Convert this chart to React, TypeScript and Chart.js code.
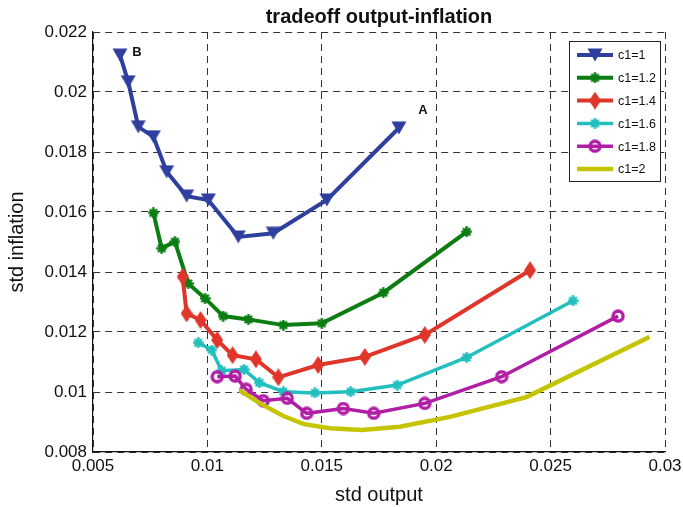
import React, { useEffect, useRef } from "react";
import { Chart, registerables } from "chart.js";

Chart.register(...registerables);

// Series: std output (x) vs std inflation (y) for each value of c1
const seriesLabels = ["c1=1", "c1=1.2", "c1=1.4", "c1=1.6", "c1=1.8", "c1=2"];

const c1_10_x = [0.00618, 0.00654, 0.00698, 0.00764, 0.00822, 0.00909, 0.01004, 0.01135, 0.01288, 0.01522, 0.01837];
const c1_10_y = [0.02123, 0.02034, 0.01884, 0.01851, 0.01734, 0.01653, 0.0164, 0.01517, 0.01529, 0.0164, 0.0188];

const c1_12_x = [0.00764, 0.008, 0.00858, 0.00916, 0.0099, 0.01069, 0.01179, 0.01332, 0.015, 0.01769, 0.02133];
const c1_12_y = [0.01597, 0.01479, 0.01501, 0.01362, 0.01312, 0.01253, 0.01242, 0.01223, 0.01229, 0.01331, 0.01534];

const c1_14_x = [0.00892, 0.00909, 0.0097, 0.01043, 0.0111, 0.01212, 0.0131, 0.01484, 0.01688, 0.0195, 0.0241];
const c1_14_y = [0.01384, 0.01262, 0.0124, 0.01173, 0.01123, 0.01109, 0.01049, 0.0109, 0.01117, 0.0119, 0.01406];

const c1_16_x = [0.0096, 0.01019, 0.01062, 0.0116, 0.01227, 0.01332, 0.0147, 0.01626, 0.0183, 0.02133, 0.02598];
const c1_16_y = [0.01164, 0.0114, 0.01071, 0.01075, 0.01031, 0.01001, 0.00997, 0.01001, 0.01023, 0.01115, 0.01304];

const c1_18_x = [0.01043, 0.01121, 0.01169, 0.01244, 0.01349, 0.01434, 0.01594, 0.01727, 0.0195, 0.02286, 0.02795];
const c1_18_y = [0.01051, 0.01053, 0.01009, 0.00971, 0.00979, 0.00929, 0.00945, 0.00929, 0.00962, 0.01051, 0.01253];

const c1_20_x = [0.0114, 0.0123, 0.01332, 0.01422, 0.01535, 0.01674, 0.01841, 0.0206, 0.02394, 0.02932];
const c1_20_y = [0.01006, 0.00962, 0.0092, 0.00893, 0.00879, 0.00873, 0.00884, 0.00917, 0.00983, 0.01183];

const xTicks = [0.005, 0.01, 0.015, 0.02, 0.025, 0.03];
const xTickLabels = ["0.005", "0.01", "0.015", "0.02", "0.025", "0.03"];
const yTicks = [0.008, 0.01, 0.012, 0.014, 0.016, 0.018, 0.02, 0.022];
const yTickLabels = ["0.008", "0.01", "0.012", "0.014", "0.016", "0.018", "0.02", "0.022"];

// Point labels written next to the c1=1 frontier
const noteText = ["A", "B"];
const noteX = [0.01942, 0.00692];
const noteY = [0.0194, 0.02133];

const titleText = "tradeoff output-inflation";
const xTitle = "std output";
const yTitle = "std inflation";

const colors = ["#2f3f9e", "#0b7d12", "#e0352a", "#23bfbf", "#b01ea6", "#c4c400"];
const lineWidths = [4, 4, 4, 3.5, 3.5, 4.5];
const FONT = "'Liberation Sans', Arial, Helvetica, sans-serif";

type Painter = (ctx: CanvasRenderingContext2D) => void;

function makeMarker(w: number, h: number, paint: Painter): HTMLCanvasElement {
  const c = document.createElement("canvas");
  c.width = w;
  c.height = h;
  const ctx = c.getContext("2d")!;
  paint(ctx);
  return c;
}

function buildMarkers(): (HTMLCanvasElement | null)[] {
  const triDown = makeMarker(16, 14, (ctx) => {
    ctx.fillStyle = colors[0];
    ctx.beginPath();
    ctx.moveTo(0.5, 0.5);
    ctx.lineTo(15.5, 0.5);
    ctx.lineTo(8, 13.5);
    ctx.closePath();
    ctx.fill();
  });
  const asterisk = (col: string) =>
    makeMarker(11, 11, (ctx) => {
      ctx.strokeStyle = col;
      ctx.lineWidth = 2.6;
      ctx.lineCap = "round";
      ctx.beginPath();
      ctx.moveTo(5.5, 1.2);
      ctx.lineTo(5.5, 9.8);
      ctx.moveTo(1.2, 5.5);
      ctx.lineTo(9.8, 5.5);
      ctx.moveTo(2.6, 2.6);
      ctx.lineTo(8.4, 8.4);
      ctx.moveTo(8.4, 2.6);
      ctx.lineTo(2.6, 8.4);
      ctx.stroke();
    });
  const diamond = makeMarker(12, 18, (ctx) => {
    ctx.fillStyle = colors[2];
    ctx.beginPath();
    ctx.moveTo(6, 0);
    ctx.lineTo(12, 9);
    ctx.lineTo(6, 18);
    ctx.lineTo(0, 9);
    ctx.closePath();
    ctx.fill();
  });
  const ring = makeMarker(14, 14, (ctx) => {
    ctx.strokeStyle = colors[4];
    ctx.lineWidth = 3.4;
    ctx.beginPath();
    ctx.arc(7, 7, 5, 0, Math.PI * 2);
    ctx.stroke();
  });
  return [triDown, asterisk(colors[1]), diamond, asterisk(colors[3]), ring, null];
}

export default function App() {
  const canvasRef = useRef<HTMLCanvasElement | null>(null);

  useEffect(() => {
    const canvas = canvasRef.current;
    if (!canvas) return;
    const markers = buildMarkers();
    const xs = [c1_10_x, c1_12_x, c1_14_x, c1_16_x, c1_18_x, c1_20_x];
    const ys = [c1_10_y, c1_12_y, c1_14_y, c1_16_y, c1_18_y, c1_20_y];

    const datasets = seriesLabels.map((label, i) => ({
      label,
      data: xs[i].map((x, j) => ({ x, y: ys[i][j] })),
      borderColor: colors[i],
      backgroundColor: colors[i],
      borderWidth: lineWidths[i],
      pointStyle: (markers[i] || "circle") as any,
      pointRadius: markers[i] ? 6 : 0,
      pointHoverRadius: markers[i] ? 6 : 0,
      showLine: true,
      tension: 0,
      fill: false,
      order: seriesLabels.length - 1 - i,
    }));

    const decorations = {
      id: "decorations",
      afterDraw(chart: any) {
        const ctx: CanvasRenderingContext2D = chart.ctx;
        const xs = chart.scales.x;
        const ys = chart.scales.y;
        const area = chart.chartArea;
        ctx.save();
        ctx.fillStyle = "#111";

        // Title
        ctx.font = `bold 20px ${FONT}`;
        ctx.textAlign = "center";
        ctx.textBaseline = "alphabetic";
        ctx.fillText(titleText, (area.left + area.right) / 2, 23);

        // Axis titles
        ctx.font = `20px ${FONT}`;
        ctx.fillText(xTitle, (area.left + area.right) / 2, 501);
        ctx.save();
        ctx.translate(23, (area.top + area.bottom) / 2);
        ctx.rotate(-Math.PI / 2);
        ctx.fillText(yTitle, 0, 0);
        ctx.restore();

        // Point notes
        ctx.font = `bold 13px ${FONT}`;
        ctx.textBaseline = "middle";
        noteText.forEach((t, i) => {
          ctx.fillText(t, xs.getPixelForValue(noteX[i]), ys.getPixelForValue(noteY[i]));
        });

        // Legend box
        const lx = 569, ly = 41, lw = 91, lh = 140;
        ctx.fillStyle = "#fff";
        ctx.fillRect(lx, ly, lw, lh);
        ctx.strokeStyle = "#222";
        ctx.lineWidth = 1;
        ctx.strokeRect(lx + 0.5, ly + 0.5, lw, lh);
        ctx.font = `12.5px ${FONT}`;
        ctx.textAlign = "left";
        seriesLabels.forEach((label, i) => {
          const cy = 55 + i * 22.8;
          ctx.strokeStyle = colors[i];
          ctx.lineWidth = lineWidths[i];
          ctx.beginPath();
          ctx.moveTo(577, cy);
          ctx.lineTo(613, cy);
          ctx.stroke();
          const m = markers[i];
          if (m) ctx.drawImage(m, 595 - m.width / 2, cy - m.height / 2);
          ctx.fillStyle = "#111";
          ctx.fillText(label, 618, cy + 1);
        });
        ctx.restore();
      },
    };

    const gridOpts = { color: "#333", lineWidth: 1, drawTicks: false };
    const chart = new Chart(canvas, {
      type: "line",
      data: { datasets },
      options: {
        animation: false,
        responsive: false,
        devicePixelRatio: 1,
        layout: { padding: { top: 32, right: 18, left: 0, bottom: 0 } },
        plugins: { legend: { display: false }, tooltip: { enabled: false }, title: { display: false } },
        scales: {
          x: {
            type: "linear",
            min: 0.005,
            max: 0.03,
            afterBuildTicks: (s: any) => {
              s.ticks = xTicks.map((value) => ({ value }));
            },
            afterFit: (s: any) => {
              s.height = 55;
              s.paddingLeft = 0;
              s.paddingRight = 0;
            },
            ticks: {
              padding: 4,
              color: "#111",
              font: { family: FONT, size: 17 },
              maxRotation: 0,
              callback: (_v: any, i: number) => xTickLabels[i],
            },
            grid: gridOpts,
            border: { display: true, color: "#111", width: 1.2, dash: [7, 5] },
          },
          y: {
            type: "linear",
            min: 0.008,
            max: 0.022,
            afterBuildTicks: (s: any) => {
              s.ticks = yTicks.map((value) => ({ value }));
            },
            afterFit: (s: any) => {
              s.width = 93;
              s.paddingTop = 0;
              s.paddingBottom = 0;
            },
            ticks: {
              padding: 6,
              color: "#111",
              font: { family: FONT, size: 17 },
              callback: (_v: any, i: number) => yTickLabels[i],
            },
            grid: gridOpts,
            border: { display: true, color: "#111", width: 1.2, dash: [7, 5] },
          },
        },
      } as any,
      plugins: [decorations],
    });
    return () => chart.destroy();
  }, []);

  return (
    <div style={{ position: "absolute", left: 0, top: 0, width: 683, height: 507, background: "#fff" }}>
      <canvas ref={canvasRef} width={683} height={507} />
    </div>
  );
}
